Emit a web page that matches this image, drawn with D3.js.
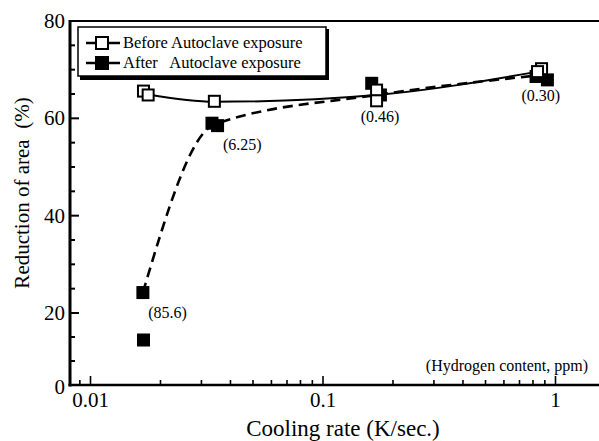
<!DOCTYPE html>
<html>
<head>
<meta charset="utf-8">
<script src="https://cdn.jsdelivr.net/npm/d3@7"></script>
<style>
  body { margin: 0; background: #fff; }
  svg { display: block; font-family: "Liberation Serif", "Times New Roman", serif; }
  text { white-space: pre; }
</style>
</head>
<body>
<div class="visHolder"></div>
<script>
const w = 599;
const h = 441;

// measured points (cooling rate K/s, reduction of area %)
const beforeRate = [0.0169, 0.0177, 0.0341, 0.170, 0.170, 0.871, 0.837];
const beforeRA   = [65.6, 64.8, 63.5, 65.8, 63.6, 70.2, 69.6];
const afterRate  = [0.0168, 0.0169, 0.0333, 0.0352, 0.162, 0.1766, 0.825, 0.923];
const afterRA    = [24.2, 12.5, 59.0, 58.5, 67.2, 64.8, 68.6, 67.9];

// fitted curves drawn through the data
const beforeCurveRate = [0.0177, 0.0341, 0.170, 0.840];
const beforeCurveRA   = [64.9, 63.4, 64.8, 69.6];
const afterCurveRate  = [0.0168, 0.0340, 0.170, 0.830];
const afterCurveRA    = [24.2, 58.7, 64.8, 68.8];

// hydrogen content labels
const h2Text = ["(85.6)", "(6.25)", "(0.46)", "(0.30)"];
const h2Rate = [0.0177, 0.0371, 0.176, 0.865];
const h2RA   = [18.6, 53.5, 59.2, 63.6];

const yMajor = [0, 20, 40, 60, 80];
const yMinor = [6.67, 13.33, 25, 30, 35, 45, 50, 55, 65, 70, 75];
const xMajor = [0.01, 0.1, 1];
const xMinor = [0.009, 0.02, 0.03, 0.04, 0.05, 0.06, 0.07, 0.08, 0.09,
                0.2, 0.3, 0.4, 0.5, 0.6, 0.7, 0.8, 0.9];

const plotLeft = 70, plotRight = 599, plotTop = 21, plotBottom = 385;

const xScale = d3.scaleLog().domain([0.01, 1]).range([90.5, 555.5]);
// the printed axis is compressed below 20
const yScale = d3.scaleLinear().domain([0, 20, 80]).range([plotBottom, 313, plotTop]);

const svg = d3.select(".visHolder").append("svg")
  .attr("width", w).attr("height", h);

//Top frame
svg.append("line")
  .attr("x1", plotLeft).attr("x2", plotRight).attr("y1", plotTop).attr("y2", plotTop)
  .attr("stroke", "#000").attr("stroke-width", 2);

//Y axis
const yAxis = svg.append("g").attr("transform", `translate(${plotLeft},0)`);
yAxis.selectAll(".maj").data(yMajor).enter().append("line")
  .attr("x1", 0).attr("x2", 9)
  .attr("y1", d => yScale(d)).attr("y2", d => yScale(d))
  .attr("stroke", "#000").attr("stroke-width", 2);
yAxis.selectAll(".min").data(yMinor).enter().append("line")
  .attr("x1", 0).attr("x2", 5)
  .attr("y1", d => yScale(d)).attr("y2", d => yScale(d))
  .attr("stroke", "#000").attr("stroke-width", 2);
yAxis.selectAll("text").data(yMajor).enter().append("text")
  .attr("x", -5).attr("y", d => yScale(d) + (d === 0 ? 2 : 0))
  .attr("dy", "0.34em")
  .attr("text-anchor", "end")
  .attr("font-size", 21)
  .text(d => d);
yAxis.append("line")
  .attr("x1", 0).attr("x2", 0).attr("y1", plotTop - 1).attr("y2", plotBottom + 1.5)
  .attr("stroke", "#000").attr("stroke-width", 3);

//X axis
const xAxis = svg.append("g");
xAxis.selectAll(".maj").data(xMajor).enter().append("line")
  .attr("x1", d => xScale(d)).attr("x2", d => xScale(d))
  .attr("y1", plotBottom).attr("y2", plotBottom - 9)
  .attr("stroke", "#000").attr("stroke-width", 1.6);
xAxis.selectAll(".min").data(xMinor).enter().append("line")
  .attr("x1", d => xScale(d)).attr("x2", d => xScale(d))
  .attr("y1", plotBottom).attr("y2", plotBottom - 5)
  .attr("stroke", "#000").attr("stroke-width", 1.6);
xAxis.selectAll("text").data(xMajor).enter().append("text")
  .attr("x", d => xScale(d)).attr("y", 407)
  .attr("text-anchor", "middle")
  .attr("font-size", 21)
  .text(d => d);
xAxis.append("line")
  .attr("x1", plotLeft - 1.5).attr("x2", plotRight).attr("y1", plotBottom).attr("y2", plotBottom)
  .attr("stroke", "#000").attr("stroke-width", 2.5);

//Axis titles
svg.append("text")
  .attr("x", 343).attr("y", 436)
  .attr("text-anchor", "middle")
  .attr("font-size", 23)
  .text("Cooling rate (K/sec.)");
svg.append("text")
  .attr("transform", "translate(29,193) rotate(-90)")
  .attr("text-anchor", "middle")
  .attr("font-size", 21)
  .text("Reduction of area  (%)");

//Curves
const line = d3.line()
  .x(d => xScale(d[0])).y(d => yScale(d[1]))
  .curve(d3.curveMonotoneX);

svg.append("path")
  .datum(beforeCurveRate.map((r, i) => [r, beforeCurveRA[i]]))
  .attr("d", line)
  .attr("fill", "none").attr("stroke", "#000").attr("stroke-width", 2);

svg.append("path")
  .datum(afterCurveRate.map((r, i) => [r, afterCurveRA[i]]))
  .attr("d", line)
  .attr("fill", "none").attr("stroke", "#000").attr("stroke-width", 2.6)
  .attr("stroke-dasharray", "10,6");

//Markers
const s = 13;
svg.selectAll(".after").data(afterRate).enter().append("rect")
  .attr("class", "after")
  .attr("x", (d, i) => xScale(d) - s / 2)
  .attr("y", (d, i) => yScale(afterRA[i]) - s / 2)
  .attr("width", s).attr("height", s)
  .attr("fill", "#000");

svg.selectAll(".before").data(beforeRate).enter().append("rect")
  .attr("class", "before")
  .attr("x", (d, i) => xScale(d) - s / 2 + 1)
  .attr("y", (d, i) => yScale(beforeRA[i]) - s / 2 + 1)
  .attr("width", s - 2).attr("height", s - 2)
  .attr("fill", "#fff").attr("stroke", "#000").attr("stroke-width", 2);

//Hydrogen content labels
svg.selectAll(".h2").data(h2Text).enter().append("text")
  .attr("class", "h2")
  .attr("x", (d, i) => xScale(h2Rate[i]))
  .attr("y", (d, i) => yScale(h2RA[i]))
  .attr("font-size", 16)
  .attr("text-anchor", (d, i) => i < 2 ? "start" : "middle")
  .text(d => d);

svg.append("text")
  .attr("x", 588).attr("y", 371)
  .attr("text-anchor", "end")
  .attr("font-size", 16)
  .text("(Hydrogen content, ppm)");

//Legend
const legend = svg.append("g");
legend.append("rect")
  .attr("x", 80).attr("y", 29).attr("width", 249).attr("height", 51)
  .attr("fill", "#000");
legend.append("rect")
  .attr("x", 78).attr("y", 27).attr("width", 248).attr("height", 49)
  .attr("fill", "#fff").attr("stroke", "#000").attr("stroke-width", 1.5);

const legendItems = [
  { label: "Before Autoclave exposure", fill: "#fff", y: 43 },
  { label: "After   Autoclave exposure", fill: "#000", y: 63 }
];
legendItems.forEach(item => {
  legend.append("line")
    .attr("x1", 86).attr("x2", 120).attr("y1", item.y).attr("y2", item.y)
    .attr("stroke", "#000").attr("stroke-width", 2.5);
  legend.append("rect")
    .attr("x", 96).attr("y", item.y - 6).attr("width", 12).attr("height", 12)
    .attr("fill", item.fill).attr("stroke", "#000").attr("stroke-width", 2);
  legend.append("text")
    .attr("x", 123).attr("y", item.y + 5)
    .attr("font-size", 16.5)
    .text(item.label);
});
</script>
</body>
</html>
